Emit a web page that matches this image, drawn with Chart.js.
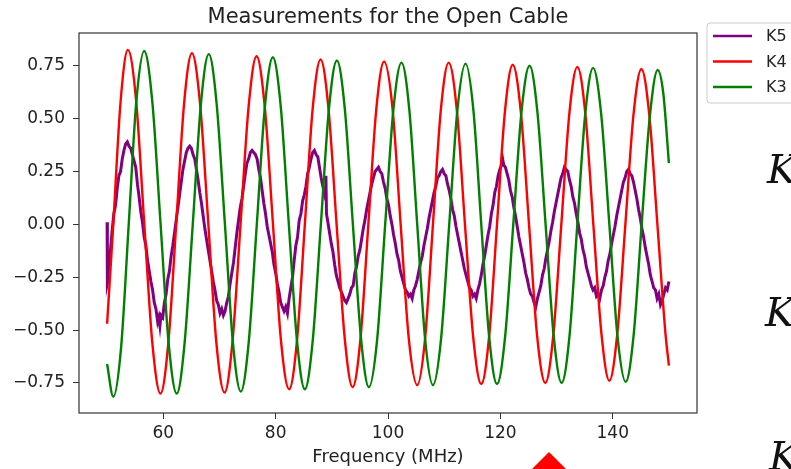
<!DOCTYPE html>
<html>
<head>
<meta charset="utf-8">
<script src="https://cdn.jsdelivr.net/npm/chart.js@4.4.1/dist/chart.umd.min.js"></script>
<style>
  html, body { margin: 0; padding: 0; background: #fff; }
  #wrap { width: 791px; height: 469px; overflow: hidden; }
</style>
</head>
<body>
<div id="wrap"><canvas id="chart" width="791" height="469"></canvas></div>
<script>
// values: [frequency MHz, value]
const seriesLabels = ['K5', 'K4', 'K3'];
const seriesColors = ['#800080', '#ff0000', '#008000'];

const xTickValues = [60, 80, 100, 120, 140];
const yTickValues = [-0.75, -0.5, -0.25, 0, 0.25, 0.5, 0.75];

const k5Points = [
  [50.0,0.01],[50.05,-0.28],[50.3,-0.25],[50.6,-0.12],[50.9,-0.03],[51.2,0.05],[51.5,0.09],[51.8,0.17],
  [52.1,0.23],[52.4,0.25],[52.7,0.31],[53.0,0.35],[53.3,0.38],[53.6,0.39],[53.9,0.37],[54.2,0.36],
  [54.5,0.33],[54.8,0.30],[55.1,0.27],[55.4,0.19],[55.7,0.13],[56.0,0.06],[56.3,0.01],[56.6,-0.06],
  [56.9,-0.10],[57.2,-0.17],[57.5,-0.22],[57.8,-0.27],[58.1,-0.31],[58.4,-0.37],[58.7,-0.40],[59.0,-0.46],
  [59.2,-0.44],[59.4,-0.48],[59.6,-0.43],[59.9,-0.44],[60.2,-0.37],[60.5,-0.33],[60.8,-0.26],[61.1,-0.22],
  [61.4,-0.15],[61.7,-0.10],[62.0,-0.04],[62.3,0.02],[62.6,0.08],[62.9,0.14],[63.2,0.20],[63.5,0.26],
  [63.8,0.30],[64.1,0.34],[64.4,0.36],[64.7,0.37],[65.0,0.36],[65.3,0.33],[65.6,0.31],[65.9,0.26],
  [66.2,0.21],[66.5,0.15],[66.8,0.10],[67.1,0.04],[67.4,-0.02],[67.7,-0.07],[68.0,-0.12],[68.3,-0.17],
  [68.6,-0.22],[68.9,-0.27],[69.2,-0.31],[69.5,-0.36],[69.8,-0.38],[70.1,-0.42],[70.4,-0.40],[70.7,-0.43],
  [71.0,-0.41],[71.3,-0.37],[71.6,-0.34],[71.9,-0.28],[72.2,-0.23],[72.5,-0.18],[72.8,-0.11],[73.1,-0.04],
  [73.4,0.02],[73.7,0.08],[74.0,0.12],[74.3,0.18],[74.6,0.24],[74.9,0.29],[75.2,0.31],[75.5,0.34],
  [75.8,0.35],[76.1,0.34],[76.4,0.33],[76.7,0.31],[77.0,0.26],[77.3,0.22],[77.6,0.16],[77.9,0.10],
  [78.2,0.05],[78.5,-0.01],[78.8,-0.05],[79.1,-0.09],[79.4,-0.13],[79.7,-0.19],[80.0,-0.23],[80.3,-0.28],
  [80.6,-0.32],[80.9,-0.37],[81.2,-0.39],[81.5,-0.41],[81.8,-0.39],[82.1,-0.42],[82.4,-0.35],[82.7,-0.30],
  [83.0,-0.25],[83.3,-0.17],[83.6,-0.10],[83.9,-0.06],[84.2,0.02],[84.5,0.05],[84.8,0.11],[85.1,0.14],
  [85.4,0.18],[85.7,0.24],[86.0,0.27],[86.3,0.31],[86.6,0.34],[86.9,0.35],[87.2,0.33],[87.5,0.32],
  [87.8,0.27],[88.1,0.22],[88.4,0.18],[88.7,0.15],[88.9,0.12],[88.95,0.23],[89.05,0.05],[89.3,0.01],
  [89.6,-0.04],[89.9,-0.09],[90.2,-0.13],[90.5,-0.19],[90.8,-0.24],[91.1,-0.27],[91.4,-0.30],[91.7,-0.32],
  [92.0,-0.34],[92.3,-0.36],[92.6,-0.37],[92.9,-0.35],[93.2,-0.33],[93.5,-0.30],[93.8,-0.29],[94.1,-0.23],
  [94.4,-0.20],[94.7,-0.15],[95.0,-0.12],[95.3,-0.07],[95.6,-0.02],[95.9,0.02],[96.2,0.07],[96.5,0.11],
  [96.8,0.15],[97.1,0.19],[97.4,0.22],[97.7,0.25],[98.0,0.26],[98.3,0.27],[98.6,0.25],[98.9,0.24],
  [99.2,0.20],[99.5,0.17],[99.8,0.12],[100.1,0.09],[100.4,0.04],[100.7,0.00],[101.0,-0.05],[101.3,-0.09],
  [101.6,-0.14],[101.9,-0.17],[102.2,-0.22],[102.5,-0.25],[102.8,-0.28],[103.1,-0.31],[103.4,-0.32],[103.7,-0.34],
  [104.0,-0.33],[104.3,-0.35],[104.6,-0.31],[104.9,-0.29],[105.2,-0.26],[105.5,-0.22],[105.8,-0.18],[106.1,-0.15],
  [106.4,-0.10],[106.7,-0.06],[107.0,-0.02],[107.3,0.03],[107.6,0.07],[107.9,0.11],[108.2,0.15],[108.5,0.18],
  [108.8,0.22],[109.1,0.23],[109.4,0.25],[109.7,0.26],[110.0,0.24],[110.3,0.23],[110.6,0.19],[110.9,0.16],
  [111.2,0.12],[111.5,0.07],[111.8,0.04],[112.1,-0.01],[112.4,-0.05],[112.7,-0.09],[113.0,-0.13],[113.3,-0.17],
  [113.6,-0.21],[113.9,-0.24],[114.2,-0.27],[114.5,-0.30],[114.8,-0.31],[115.1,-0.34],[115.4,-0.33],[115.7,-0.35],
  [116.0,-0.31],[116.3,-0.28],[116.6,-0.24],[116.9,-0.19],[117.2,-0.15],[117.5,-0.10],[117.8,-0.05],[118.1,-0.01],
  [118.4,0.05],[118.7,0.09],[119.0,0.15],[119.3,0.18],[119.6,0.23],[119.9,0.26],[120.2,0.28],[120.4,0.31],
  [120.6,0.28],[120.9,0.27],[121.2,0.24],[121.5,0.21],[121.8,0.16],[122.1,0.13],[122.4,0.08],[122.7,0.04],
  [123.0,-0.01],[123.3,-0.06],[123.6,-0.10],[123.9,-0.14],[124.2,-0.18],[124.5,-0.23],[124.8,-0.26],[125.1,-0.30],
  [125.4,-0.33],[125.7,-0.34],[126.0,-0.37],[126.3,-0.39],[126.6,-0.35],[126.9,-0.32],[127.2,-0.29],[127.5,-0.24],
  [127.8,-0.21],[128.1,-0.16],[128.4,-0.12],[128.7,-0.08],[129.0,-0.03],[129.3,0.01],[129.6,0.06],[129.9,0.10],
  [130.2,0.14],[130.5,0.18],[130.8,0.22],[131.1,0.24],[131.4,0.27],[131.7,0.26],[132.0,0.25],[132.3,0.21],
  [132.6,0.18],[132.9,0.13],[133.2,0.10],[133.5,0.05],[133.8,0.01],[134.1,-0.04],[134.4,-0.07],[134.7,-0.12],
  [135.0,-0.15],[135.3,-0.20],[135.6,-0.23],[135.9,-0.26],[136.2,-0.29],[136.5,-0.31],[136.8,-0.30],[137.1,-0.34],
  [137.4,-0.33],[137.7,-0.35],[138.0,-0.31],[138.3,-0.29],[138.6,-0.25],[138.9,-0.22],[139.2,-0.17],[139.5,-0.14],
  [139.8,-0.09],[140.1,-0.05],[140.4,-0.01],[140.7,0.04],[141.0,0.08],[141.3,0.12],[141.6,0.16],[141.9,0.20],
  [142.2,0.22],[142.5,0.25],[142.8,0.26],[143.1,0.24],[143.4,0.23],[143.7,0.20],[144.0,0.16],[144.3,0.12],
  [144.6,0.07],[144.9,0.03],[145.2,-0.02],[145.5,-0.06],[145.8,-0.11],[146.1,-0.15],[146.4,-0.19],[146.7,-0.24],
  [147.0,-0.27],[147.3,-0.30],[147.6,-0.31],[147.9,-0.35],[148.2,-0.33],[148.5,-0.38],[148.8,-0.36],[149.1,-0.33],
  [149.4,-0.30],[149.7,-0.31],[150.0,-0.27]
];

const k4Points = [
  [50.0,-0.47],[51.1,0.0],[52.4,0.58],[53.7,0.825],
  [55.15,0.59],[56.6,0.01],[58.05,-0.56],[59.5,-0.80],
  [60.9,-0.56],[62.3,0.0],[63.7,0.57],[65.1,0.81],
  [66.55,0.57],[68.0,0.01],[69.45,-0.56],[70.9,-0.795],
  [72.3,-0.56],[73.75,0.0],[75.2,0.56],[76.6,0.795],
  [78.05,0.56],[79.5,0.01],[80.95,-0.55],[82.4,-0.78],
  [83.8,-0.55],[85.2,0.0],[86.6,0.55],[88.0,0.78],
  [89.4,0.55],[90.85,0.0],[92.3,-0.54],[93.7,-0.77],
  [95.1,-0.54],[96.5,0.0],[97.9,0.54],[99.3,0.77],
  [100.8,0.55],[102.25,0.0],[103.7,-0.54],[105.2,-0.76],
  [106.6,-0.54],[108.0,0.0],[109.4,0.54],[110.8,0.765],
  [112.25,0.54],[113.7,0.0],[115.15,-0.53],[116.6,-0.755],
  [118.0,-0.53],[119.4,0.0],[120.8,0.53],[122.2,0.755],
  [123.65,0.53],[125.1,0.0],[126.55,-0.53],[128.0,-0.75],
  [129.4,-0.53],[130.85,0.0],[132.3,0.53],[133.7,0.745],
  [135.1,0.53],[136.55,0.0],[138.0,-0.52],[139.4,-0.74],
  [140.8,-0.52],[142.25,0.0],[143.7,0.52],[145.1,0.735],
  [146.5,0.52],[147.95,0.0],[149.4,-0.52],[150.0,-0.668]
];

const k3Points = [
  [50.0,-0.66],[51.1,-0.815],
  [52.5,-0.58],[53.85,0.0],[55.2,0.58],[56.6,0.82],
  [58.05,0.58],[59.5,0.01],[60.95,-0.56],[62.4,-0.80],
  [63.8,-0.56],[65.25,0.0],[66.7,0.57],[68.1,0.805],
  [69.5,0.57],[70.95,0.01],[72.4,-0.56],[73.8,-0.79],
  [75.2,-0.56],[76.65,0.0],[78.1,0.56],[79.5,0.79],
  [80.9,0.56],[82.35,0.0],[83.8,-0.55],[85.2,-0.78],
  [86.6,-0.55],[88.05,0.0],[89.5,0.55],[90.9,0.775],
  [92.3,0.55],[93.75,0.0],[95.2,-0.54],[96.6,-0.77],
  [98.05,-0.55],[99.5,0.0],[100.95,0.54],[102.4,0.765],
  [103.8,0.54],[105.2,0.0],[106.6,-0.54],[108.0,-0.76],
  [109.45,-0.54],[110.9,0.0],[112.35,0.54],[113.8,0.76],
  [115.2,0.54],[116.6,0.0],[118.0,-0.53],[119.4,-0.755],
  [120.85,-0.53],[122.3,0.0],[123.75,0.53],[125.2,0.75],
  [126.6,0.53],[128.05,0.0],[129.5,-0.53],[130.9,-0.75],
  [132.3,-0.53],[133.7,0.0],[135.1,0.52],[136.5,0.74],
  [137.95,0.52],[139.4,0.0],[140.85,-0.53],[142.3,-0.745],
  [143.7,-0.53],[145.15,0.0],[146.6,0.51],[148.0,0.73],
  [149.0,0.62],[150.0,0.29]
];

const toXY = (pts) => pts.map(([x, y]) => ({ x, y }));
const FONT = '"DejaVu Sans", sans-serif';

// frame, title, legend and the bits of the screenshot that sit round the plot
const decorations = {
  id: 'decorations',
  beforeDraw(chart) {
    const ctx = chart.ctx;
    ctx.save();
    ctx.fillStyle = '#ffffff';
    ctx.fillRect(0, 0, chart.width, chart.height);
    ctx.restore();
  },
  afterDraw(chart) {
    const { ctx, chartArea: a } = chart;
    ctx.save();

    ctx.strokeStyle = '#333';
    ctx.lineWidth = 1.2;
    ctx.strokeRect(a.left, a.top, a.right - a.left, a.bottom - a.top);

    ctx.fillStyle = '#222';
    ctx.font = '21px ' + FONT;
    ctx.textAlign = 'center';
    ctx.textBaseline = 'alphabetic';
    ctx.fillText('Measurements for the Open Cable', (a.left + a.right) / 2, 23);

    // legend
    const lx = a.right + 10, ly = 23;
    ctx.fillStyle = 'rgba(255,255,255,0.9)';
    ctx.strokeStyle = '#cccccc';
    ctx.lineWidth = 1;
    ctx.beginPath();
    ctx.roundRect(lx, ly, 110, 80, 3);
    ctx.fill();
    ctx.stroke();
    ctx.font = '16px ' + FONT;
    ctx.textAlign = 'left';
    ctx.textBaseline = 'middle';
    chart.data.datasets.forEach((ds, i) => {
      const y = ly + 13 + i * 25.5;
      ctx.strokeStyle = ds.borderColor;
      ctx.lineWidth = 2.5;
      ctx.beginPath();
      ctx.moveTo(lx + 6, y);
      ctx.lineTo(lx + 45, y);
      ctx.stroke();
      ctx.fillStyle = '#222';
      ctx.fillText(ds.label, lx + 59, y + 1);
    });

    // cropped neighbours in the screenshot
    ctx.fillStyle = '#111';
    ctx.font = 'italic 40px "DejaVu Serif", serif';
    ctx.textBaseline = 'alphabetic';
    ctx.fillText('K', 767, 183);
    ctx.fillText('K', 765, 326);
    ctx.fillText('K', 769, 470);

    ctx.fillStyle = '#ff0000';
    ctx.beginPath();
    ctx.moveTo(549, 452);
    ctx.lineTo(530, 471);
    ctx.lineTo(568, 471);
    ctx.closePath();
    ctx.fill();

    ctx.restore();
  }
};

const ctx = document.getElementById('chart').getContext('2d');
new Chart(ctx, {
  type: 'line',
  data: {
    datasets: [
      { label: seriesLabels[0], data: toXY(k5Points), borderColor: seriesColors[0], borderWidth: 3, tension: 0, order: 3 },
      { label: seriesLabels[1], data: toXY(k4Points), borderColor: seriesColors[1], borderWidth: 2.4, cubicInterpolationMode: 'monotone', order: 2 },
      { label: seriesLabels[2], data: toXY(k3Points), borderColor: seriesColors[2], borderWidth: 2.4, cubicInterpolationMode: 'monotone', order: 1 }
    ]
  },
  options: {
    responsive: false,
    animation: false,
    devicePixelRatio: 1,
    layout: { padding: { top: 33, right: 94, left: 0, bottom: 0 } },
    elements: { point: { radius: 0 }, line: { fill: false } },
    plugins: { legend: { display: false }, title: { display: false }, tooltip: { enabled: false } },
    scales: {
      x: {
        type: 'linear',
        min: 45,
        max: 155,
        afterFit: (scale) => { scale.height = 56; },
        afterBuildTicks: (scale) => { scale.ticks = xTickValues.map(v => ({ value: v })); },
        grid: { drawOnChartArea: false, drawTicks: true, tickLength: 6, color: '#333' },
        border: { display: false },
        ticks: { color: '#222', font: { family: FONT, size: 17 }, padding: 4, maxRotation: 0, callback: (v) => String(v) },
        title: { display: true, text: 'Frequency (MHz)', color: '#222', font: { family: FONT, size: 18 }, padding: { top: 0, bottom: 1 } }
      },
      y: {
        type: 'linear',
        min: -0.892,
        max: 0.905,
        afterFit: (scale) => { scale.width = 79; },
        afterBuildTicks: (scale) => { scale.ticks = yTickValues.map(v => ({ value: v })); },
        grid: { drawOnChartArea: false, drawTicks: true, tickLength: 6, color: '#333' },
        border: { display: false },
        ticks: { color: '#222', font: { family: FONT, size: 17 }, padding: 8, callback: (v) => v.toFixed(2).replace('-', '\u2212') }
      }
    }
  },
  plugins: [decorations]
});
</script>
</body>
</html>
